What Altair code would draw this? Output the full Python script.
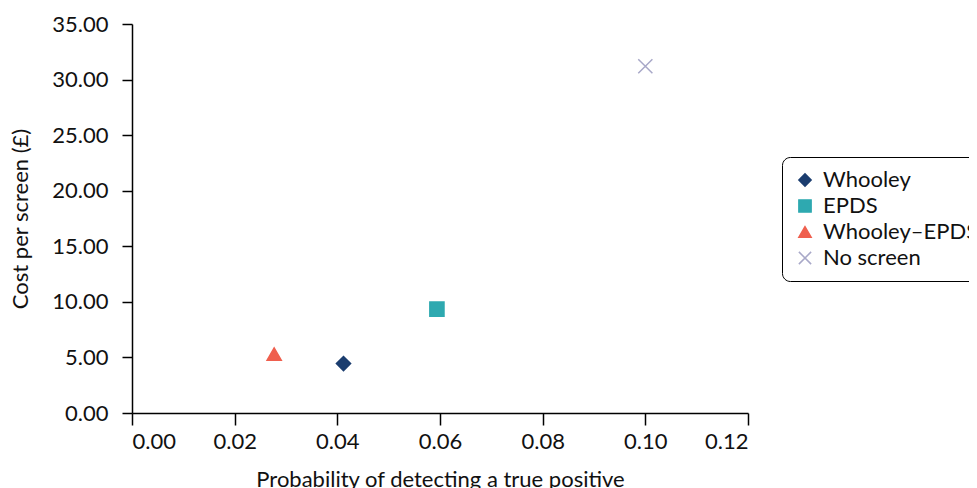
import altair as alt
import pandas as pd

strategies = ["Whooley", "EPDS", "Whooley\u2013EPDS", "No screen"]
prob_true_positive = [0.0412, 0.0594, 0.0277, 0.1000]
cost_per_screen = [4.45, 9.35, 5.30, 31.2]
colors = ["#1b3d6f", "#2ea9b0", "#ef5f4e", "#a8a8c8"]
shapes = ["diamond", "square", "triangle-up", "M-1,-1L1,1M1,-1L-1,1"]
x_ticks = [0.0, 0.02, 0.04, 0.06, 0.08, 0.10, 0.12]
y_ticks = [0, 5, 10, 15, 20, 25, 30, 35]

df = pd.DataFrame({
    "Strategy": strategies,
    "prob": prob_true_positive,
    "cost": cost_per_screen,
})

FONT = "Lato"
FS = 22
leg = alt.Legend(
    title=None, orient="none", legendX=650, legendY=133,
    strokeColor="black", cornerRadius=8, padding=12,
    labelFontSize=FS, labelFont=FONT, labelColor="#111", labelOffset=7,
    symbolSize=150, rowPadding=4, symbolStrokeWidth=1.5,
)
sc = alt.Scale(domain=strategies, range=colors)

chart = alt.Chart(df).mark_point(filled=True, opacity=1, size=200, strokeWidth=1.5).encode(
    x=alt.X("prob:Q", title="Probability of detecting a true positive",
            scale=alt.Scale(domain=[0, 0.12], nice=False, zero=True),
            axis=alt.Axis(values=x_ticks, format=".2f", grid=False, tickSize=12,
                          labelPadding=6, titlePadding=17)),
    y=alt.Y("cost:Q", title="Cost per screen (\u00a3)",
            scale=alt.Scale(domain=[0, 35], nice=False),
            axis=alt.Axis(values=y_ticks, format=".2f", grid=False, tickSize=10,
                          labelPadding=14, titlePadding=19)),
    fill=alt.Fill("Strategy:N", scale=sc, legend=leg, sort=strategies),
    stroke=alt.Stroke("Strategy:N", scale=sc, legend=leg, sort=strategies),
    shape=alt.Shape("Strategy:N", scale=alt.Scale(domain=strategies, range=shapes),
                    legend=leg, sort=strategies),
).properties(
    width=616, height=389,
    autosize=alt.AutoSizeParams(type="none"),
    padding={"left": 124, "top": 16, "right": 221, "bottom": 75},
).configure_view(stroke=None).configure_axis(
    domainColor="black", domainWidth=1.5, tickColor="black", tickWidth=1.5,
    labelFont=FONT, labelFontSize=FS, labelColor="#111",
    titleFont=FONT, titleFontSize=FS, titleFontWeight="normal", titleColor="#111",
)

chart.save("out.html", embed_options={"renderer": "svg", "actions": False})
